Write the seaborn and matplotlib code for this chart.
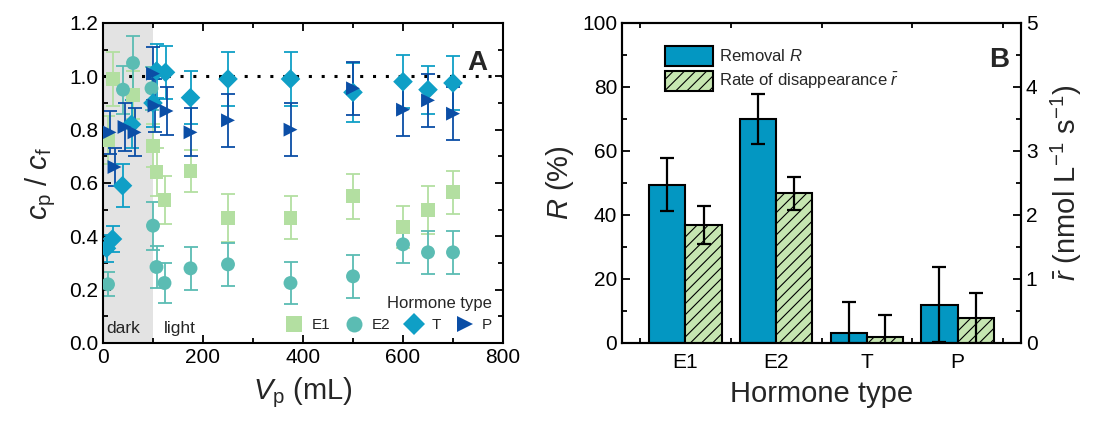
import numpy as np
import pandas as pd
import matplotlib
matplotlib.use("Agg")
import matplotlib.pyplot as plt
from matplotlib.ticker import MultipleLocator, FixedLocator
from matplotlib.patches import Patch
import seaborn as sns

# ---------------- data (panel A) ----------------
e1_v = [10, 20, 60, 100, 107, 123, 175, 250, 375, 500, 600, 650, 700]
e1_c = [0.76, 0.99, 0.93, 0.74, 0.64, 0.535, 0.645, 0.47, 0.47, 0.55, 0.435, 0.50, 0.565]
e1_e = [0.09, 0.10, 0.09, 0.08, 0.09, 0.09, 0.08, 0.09, 0.08, 0.085, 0.08, 0.09, 0.08]

e2_v = [10, 40, 60, 97, 100, 107, 123, 175, 250, 375, 500, 600, 650, 700]
e2_c = [0.22, 0.95, 1.05, 0.955, 0.44, 0.285, 0.225, 0.28, 0.295, 0.225, 0.25, 0.37, 0.34, 0.34]
e2_e = [0.045, 0.09, 0.10, 0.08, 0.09, 0.08, 0.075, 0.08, 0.08, 0.078, 0.08, 0.07, 0.08, 0.08]

t_v = [7, 19, 39, 57, 100, 107, 125, 175, 250, 375, 500, 600, 650, 700]
t_c = [0.355, 0.39, 0.59, 0.82, 0.90, 1.02, 1.015, 0.92, 0.99, 0.99, 0.94, 0.98, 0.95, 0.975]
t_e = [0.05, 0.05, 0.08, 0.09, 0.09, 0.10, 0.10, 0.10, 0.10, 0.10, 0.11, 0.10, 0.09, 0.10]

p_v = [13, 23, 43, 63, 100, 103, 127, 175, 250, 375, 500, 600, 650, 700]
p_c = [0.79, 0.66, 0.81, 0.79, 1.01, 0.89, 0.87, 0.79, 0.835, 0.80, 0.955, 0.875, 0.91, 0.86]
p_e = [0.08, 0.07, 0.09, 0.09, 0.10, 0.10, 0.09, 0.09, 0.10, 0.10, 0.10, 0.10, 0.10, 0.10]

hormone_names = ["E1", "E2", "T", "P"]

# ---------------- data (panel B) ----------------
categories = ["E1", "E2", "T", "P"]
removal = [49.5, 70.0, 3.0, 12.0]
removal_err = [8.2, 7.8, 9.8, 11.6]
rate = [1.84, 2.34, 0.09, 0.39]
rate_err = [0.30, 0.26, 0.35, 0.39]

# ---------------- style ----------------
sns.set_theme(style="ticks")
plt.rcParams["font.family"] = ["Liberation Sans", "DejaVu Sans"]
plt.rcParams["mathtext.fontset"] = "custom"
plt.rcParams["mathtext.rm"] = "Liberation Sans"
plt.rcParams["mathtext.it"] = "Liberation Sans:italic"
plt.rcParams["mathtext.bf"] = "Liberation Sans:bold"
plt.rcParams["hatch.linewidth"] = 0.8
plt.rcParams["hatch.color"] = "black"

colors = {"E1": "#b3dfa1", "E2": "#5bbcb3", "T": "#0f9fc6", "P": "#0b4ea6"}
markers = {"E1": "s", "E2": "o", "T": "D", "P": ">"}

fig = plt.figure(figsize=(10.97, 4.25), dpi=100)
axA = fig.add_axes([103 / 1097, 1 - 343 / 425, 400 / 1097, 320 / 425])
axB = fig.add_axes([622 / 1097, 1 - 343 / 425, 399 / 1097, 320 / 425])

# ---------------- panel A ----------------
frames = []
for name, v, c, e in [("E1", e1_v, e1_c, e1_e), ("E2", e2_v, e2_c, e2_e),
                      ("T", t_v, t_c, t_e), ("P", p_v, p_c, p_e)]:
    frames.append(pd.DataFrame({"V": v, "c": c, "err": e, "Hormone": name}))
dfA = pd.concat(frames, ignore_index=True)

axA.axvspan(0, 100, color="#e3e3e3", zorder=0, lw=0)
axA.axhline(1.0, color="black", ls=(0, (1, 3.2)), lw=2.2, zorder=1)

for name in hormone_names:
    sub = dfA[dfA["Hormone"] == name]
    axA.errorbar(sub["V"], sub["c"], yerr=sub["err"], fmt="none",
                 ecolor=colors[name], elinewidth=1.3, capsize=5, capthick=1.3, zorder=2)

sns.scatterplot(data=dfA, x="V", y="c", hue="Hormone", style="Hormone",
                hue_order=hormone_names, style_order=hormone_names,
                palette=colors, markers=markers, s=100, linewidth=0,
                ax=axA, zorder=3)

handles, labels = axA.get_legend_handles_labels()
axA.legend(handles, labels, title="Hormone type", loc="lower right", ncol=4,
           frameon=False, fontsize=11, title_fontsize=12, columnspacing=0.9,
           handlelength=1.3, handletextpad=0.5, borderaxespad=0.3,
           alignment="right", markerscale=1.15)

axA.set_xlim(0, 800)
axA.set_ylim(0, 1.2)
axA.xaxis.set_major_locator(MultipleLocator(200))
axA.xaxis.set_minor_locator(MultipleLocator(100))
axA.yaxis.set_major_locator(MultipleLocator(0.2))
axA.yaxis.set_minor_locator(MultipleLocator(0.1))
axA.set_yticklabels([f"{t:.1f}" for t in axA.get_yticks()])
axA.tick_params(which="both", direction="in", top=True, right=True, labelsize=15,
                width=1.3, color="black", labelcolor="black")
axA.tick_params(which="major", length=6)
axA.tick_params(which="minor", length=3.5)
axA.set_xlabel(r"$V_\mathrm{p}$ (mL)", fontsize=21, labelpad=6)
axA.set_ylabel(r"$c_\mathrm{p}$ / $c_\mathrm{f}$", fontsize=21, labelpad=8)
axA.text(40, 0.055, "dark", fontsize=12.5, ha="center", va="center")
axA.text(153, 0.055, "light", fontsize=12.5, ha="center", va="center")
axA.text(0.935, 0.875, "A", transform=axA.transAxes, fontsize=20,
         fontweight="bold", ha="center", va="center")
for s in axA.spines.values():
    s.set_linewidth(1.5)
    s.set_color("black")

# ---------------- panel B ----------------
blue = "#0397c2"
green = "#c6e6b1"
dfR = pd.DataFrame({"Hormone": categories, "value": removal, "kind": "R"})
dfr = pd.DataFrame({"Hormone": categories, "value": rate, "kind": "r"})

axR = axB.twinx()
sns.barplot(data=dfR, x="Hormone", y="value", hue="kind", hue_order=["R", "r"],
            order=categories, palette={"R": blue, "r": green}, dodge=True,
            width=0.8, gap=0, errorbar=None, edgecolor="black", linewidth=1.5,
            saturation=1, ax=axB, legend=False)
sns.barplot(data=dfr, x="Hormone", y="value", hue="kind", hue_order=["R", "r"],
            order=categories, palette={"R": blue, "r": green}, dodge=True,
            width=0.8, gap=0, errorbar=None, edgecolor="black", linewidth=1.5,
            saturation=1, ax=axR, legend=False)
for p in axR.patches:
    p.set_hatch("///")

pos = np.arange(len(categories))
axB.errorbar(pos - 0.2, removal, yerr=removal_err, fmt="none", ecolor="black",
             elinewidth=1.6, capsize=5, capthick=1.6, zorder=5)
axR.errorbar(pos + 0.2, rate, yerr=rate_err, fmt="none", ecolor="black",
             elinewidth=1.6, capsize=5, capthick=1.6, zorder=5)

axB.set_xlim(-0.7, 3.7)
axB.set_ylim(0, 100)
axR.set_ylim(0, 5)
axB.yaxis.set_major_locator(MultipleLocator(20))
axB.yaxis.set_minor_locator(MultipleLocator(10))
axR.yaxis.set_major_locator(MultipleLocator(1))
axR.yaxis.set_minor_locator(MultipleLocator(0.5))
axB.xaxis.set_minor_locator(FixedLocator([-0.5, 0.5, 1.5, 2.5, 3.5]))
axB.tick_params(which="both", direction="in", top=True, labelsize=15,
                width=1.3, color="black", labelcolor="black")
axR.tick_params(which="both", direction="in", labelsize=15, width=1.3,
                color="black", labelcolor="black")
for a in (axB, axR):
    a.tick_params(which="major", length=6)
    a.tick_params(which="minor", length=3.5)
axB.tick_params(axis="x", which="major", length=0, pad=7)
axB.set_xlabel("Hormone type", fontsize=21, labelpad=6)
axB.set_ylabel(r"$R$ (%)", fontsize=21, labelpad=4)
axR.set_ylabel(r"$\bar{r}$ (nmol L$^{-1}$ s$^{-1}$)", fontsize=21, labelpad=8)
axR.set_xlabel("")
axB.text(0.945, 0.885, "B", transform=axB.transAxes, fontsize=20,
         fontweight="bold", ha="center", va="center")
for a in (axB, axR):
    for s in a.spines.values():
        s.set_linewidth(1.5)
        s.set_color("black")

leg_handles = [Patch(facecolor=blue, edgecolor="black", linewidth=1.5),
               Patch(facecolor=green, edgecolor="black", linewidth=1.5, hatch="///")]
axR.legend(leg_handles, [r"Removal $R$", r"Rate of disappearance $\bar{r}$"],
           loc="upper left", bbox_to_anchor=(0.07, 0.975), frameon=False,
           fontsize=12, handlelength=2.9, handleheight=1.45, handletextpad=0.35,
           labelspacing=0.3)

fig.savefig("out.png", dpi=100)
